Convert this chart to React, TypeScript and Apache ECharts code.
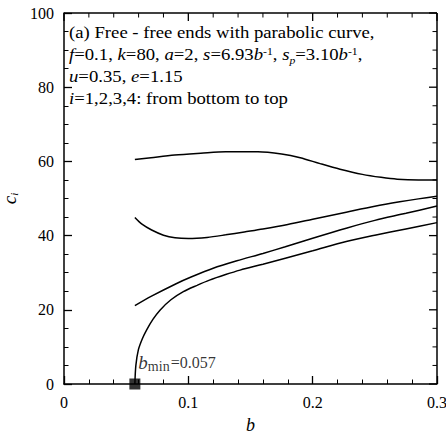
import React, { useEffect, useRef } from "react";
import * as echarts from "echarts";

const FONT = "'Liberation Serif', 'Times New Roman', serif";

const xTicks = [0, 0.1, 0.2, 0.3];
const xMinorTicks = [0.02, 0.04, 0.06, 0.08, 0.12, 0.14, 0.16, 0.18, 0.22, 0.24, 0.26, 0.28];
const yTicks = [0, 20, 40, 60, 80, 100];
const yMinorTicks = [5, 10, 15, 25, 30, 35, 45, 50, 55, 65, 70, 75, 85, 90, 95];

// curve i = 1 (bottom)
const curve1: [number, number][] = [
  [0.057, 0], [0.0578, 5], [0.0598, 9.2], [0.063, 12.2], [0.0665, 14.6],
  [0.0715, 17.4], [0.0772, 19.9], [0.086, 22.7], [0.096, 24.9],
  [0.107, 26.6], [0.117, 28.0], [0.13, 29.5], [0.1416, 30.7], [0.16, 32.3],
  [0.178, 33.9], [0.2, 35.9], [0.227, 38.4], [0.25, 40.1], [0.275, 41.8], [0.3, 43.5],
];
// curve i = 2
const curve2: [number, number][] = [
  [0.057, 21.1], [0.07, 23.6], [0.0906, 27.1], [0.1027, 28.9], [0.12, 31.2],
  [0.139, 33.2], [0.16, 35.2], [0.178, 37.0], [0.2, 39.3], [0.227, 42.0],
  [0.25, 44.1], [0.275, 46.0], [0.3, 48.0],
];
// curve i = 3
const curve3: [number, number][] = [
  [0.057, 44.9], [0.063, 43.0], [0.0705, 41.5], [0.08, 40.1], [0.0893, 39.4],
  [0.1, 39.2], [0.115, 39.5], [0.13, 40.2], [0.145, 41.0], [0.16, 41.8],
  [0.18, 43.0], [0.2, 44.4], [0.227, 46.3], [0.25, 47.9], [0.27, 49.1],
  [0.285, 49.9], [0.3, 50.6],
];
// curve i = 4 (top)
const curve4: [number, number][] = [
  [0.057, 60.5], [0.07, 61.0], [0.089, 61.7], [0.11, 62.2], [0.13, 62.6],
  [0.156, 62.6], [0.175, 62.0], [0.19, 61.0], [0.206, 59.4], [0.222, 57.9],
  [0.24, 56.5], [0.255, 55.7], [0.268, 55.2], [0.285, 55.0], [0.3, 55.0],
];
const bMinPoint: [number, number][] = [[0.057, 0]];
const bMinText = "=0.057";

const annotation =
  "{n|(a) Free - free ends with parabolic curve,}\n" +
  "{it|f}{n|=0.1, }{it|k}{n|=80, }{it|a}{n|=2, }{it|s}{n|=6.93}{it|b}{sup|-1}{n|, }{it|s}{sub|p}{n|=3.10}{it|b}{sup|-1}{n|,}\n" +
  "{it|u}{n|=0.35, }{it|e}{n|=1.15}\n" +
  "{it|i}{n|=1,2,3,4: from bottom to top}";

// mirror frame (top and right) items: [side, isMajor, value]
// side 0 = top tick, 1 = right tick, 2 = top frame line, 3 = right frame line
const frameData: number[][] = [
  [2, 1, 0],
  [3, 1, 0],
  ...xTicks.map((v) => [0, 1, v]),
  ...xMinorTicks.map((v) => [0, 0, v]),
  ...yTicks.map((v) => [1, 1, v]),
  ...yMinorTicks.map((v) => [1, 0, v]),
];

export default function App() {
  const ref = useRef<HTMLDivElement>(null);
  useEffect(() => {
    if (!ref.current) return;
    const chart = echarts.init(ref.current, null, { renderer: "svg" });
    const lineSeries = (data: [number, number][]) => ({
      type: "line",
      data,
      showSymbol: false,
      smooth: 0.3,
      lineStyle: { color: "#000", width: 1.5 },
      itemStyle: { color: "#000" },
    });
    const xMin = xTicks[0];
    const xMax = xTicks[xTicks.length - 1];
    const yMin = yTicks[0];
    const yMax = yTicks[yTicks.length - 1];
    chart.setOption({
      animation: false,
      grid: { left: 64, right: 9, top: 13, bottom: 53, outerBoundsMode: "none" },
      xAxis: {
        type: "value",
        min: xMin,
        max: xMax,
        interval: 0.1,
        axisLine: { show: true, lineStyle: { color: "#000", width: 1.5 } },
        axisTick: { show: true, inside: true, length: 8, lineStyle: { color: "#000", width: 1.3 } },
        minorTick: { show: true, splitNumber: 5, length: 4.5, lineStyle: { color: "#000", width: 1 } },
        splitLine: { show: false },
        minorSplitLine: { show: false },
        axisLabel: {
          color: "#000",
          fontFamily: FONT,
          fontSize: 16,
          margin: 10,
          formatter: (v: number) => (v === 0 ? "0" : v.toFixed(1)),
        },
        name: "b",
        nameLocation: "middle",
        nameGap: 32,
        nameTextStyle: { color: "#000", fontFamily: FONT, fontSize: 18, fontStyle: "italic" },
      },
      yAxis: {
        type: "value",
        min: yMin,
        max: yMax,
        interval: 20,
        axisLine: { show: true, lineStyle: { color: "#000", width: 1.5 } },
        axisTick: { show: true, inside: true, length: 8, lineStyle: { color: "#000", width: 1.3 } },
        minorTick: { show: true, splitNumber: 4, length: 4.5, lineStyle: { color: "#000", width: 1 } },
        splitLine: { show: false },
        minorSplitLine: { show: false },
        axisLabel: { color: "#000", fontFamily: FONT, fontSize: 16, margin: 10 },
        name: "{c|c}{i|i}",
        nameLocation: "middle",
        nameGap: 31,
        nameTextStyle: {
          color: "#000",
          fontFamily: FONT,
          rich: {
            c: { fontFamily: FONT, fontSize: 19, fontStyle: "italic", color: "#000" },
            i: { fontFamily: FONT, fontSize: 11, fontStyle: "italic", color: "#000", verticalAlign: "bottom" },
          },
        },
      },
      series: [
        lineSeries(curve1),
        lineSeries(curve2),
        lineSeries(curve3),
        lineSeries(curve4),
        {
          type: "custom",
          data: frameData,
          renderItem: (_p: any, api: any) => {
            const side = api.value(0);
            const major = api.value(1) === 1;
            const v = api.value(2);
            const len = major ? 8 : 4.5;
            if (side === 2) {
              const a = api.coord([xMin, yMax]);
              const b = api.coord([xMax, yMax]);
              return { type: "line", shape: { x1: a[0], y1: a[1], x2: b[0], y2: b[1] }, style: { stroke: "#000", lineWidth: 1.5 } };
            }
            if (side === 3) {
              const a = api.coord([xMax, yMin]);
              const b = api.coord([xMax, yMax]);
              return { type: "line", shape: { x1: a[0], y1: a[1], x2: b[0], y2: b[1] }, style: { stroke: "#000", lineWidth: 1.5 } };
            }
            if (side === 0) {
              const t = api.coord([v, yMax]);
              return { type: "line", shape: { x1: t[0], y1: t[1], x2: t[0], y2: t[1] + len }, style: { stroke: "#000", lineWidth: major ? 1.3 : 1 } };
            }
            const r = api.coord([xMax, v]);
            return { type: "line", shape: { x1: r[0], y1: r[1], x2: r[0] - len, y2: r[1] }, style: { stroke: "#000", lineWidth: major ? 1.3 : 1 } };
          },
        },
        {
          type: "scatter",
          data: bMinPoint,
          symbol: "rect",
          symbolSize: 11,
          clip: false,
          z: 5,
          itemStyle: { color: "#000" },
          label: {
            show: true,
            position: [9, -16],
            align: "left",
            verticalAlign: "middle",
            formatter: "{b|b}{m|min}{t|" + bMinText + "}",
            rich: {
              b: { fontFamily: FONT, fontSize: 19, fontStyle: "italic", color: "#000", lineHeight: 22 },
              m: { fontFamily: FONT, fontSize: 14, color: "#000", verticalAlign: "bottom", lineHeight: 22, padding: [0, 1, 0, 0] },
              t: { fontFamily: FONT, fontSize: 16, color: "#000", lineHeight: 22 },
            },
          },
        },
      ],
      graphic: [
        {
          type: "text",
          left: 69,
          top: 21,
          scaleX: 1.17,
          style: {
            text: annotation,
            fill: "#000",
            fontFamily: FONT,
            fontSize: 16,
            lineHeight: 22,
            rich: {
              n: { fontFamily: FONT, fontSize: 16, lineHeight: 22, fill: "#000", color: "#000" },
              it: { fontFamily: FONT, fontSize: 16, fontStyle: "italic", lineHeight: 22, fill: "#000", color: "#000" },
              sup: { fontFamily: FONT, fontSize: 10, lineHeight: 22, verticalAlign: "top", fill: "#000", color: "#000", padding: [3, 0, 0, 0] },
              sub: { fontFamily: FONT, fontSize: 10, fontStyle: "italic", lineHeight: 22, verticalAlign: "bottom", fill: "#000", color: "#000" },
            },
          },
        },
      ],
    });
    return () => chart.dispose();
  }, []);
  return (
    <div
      ref={ref}
      style={{ position: "fixed", left: 0, top: 0, width: 446, height: 437, background: "#fff" }}
    />
  );
}
